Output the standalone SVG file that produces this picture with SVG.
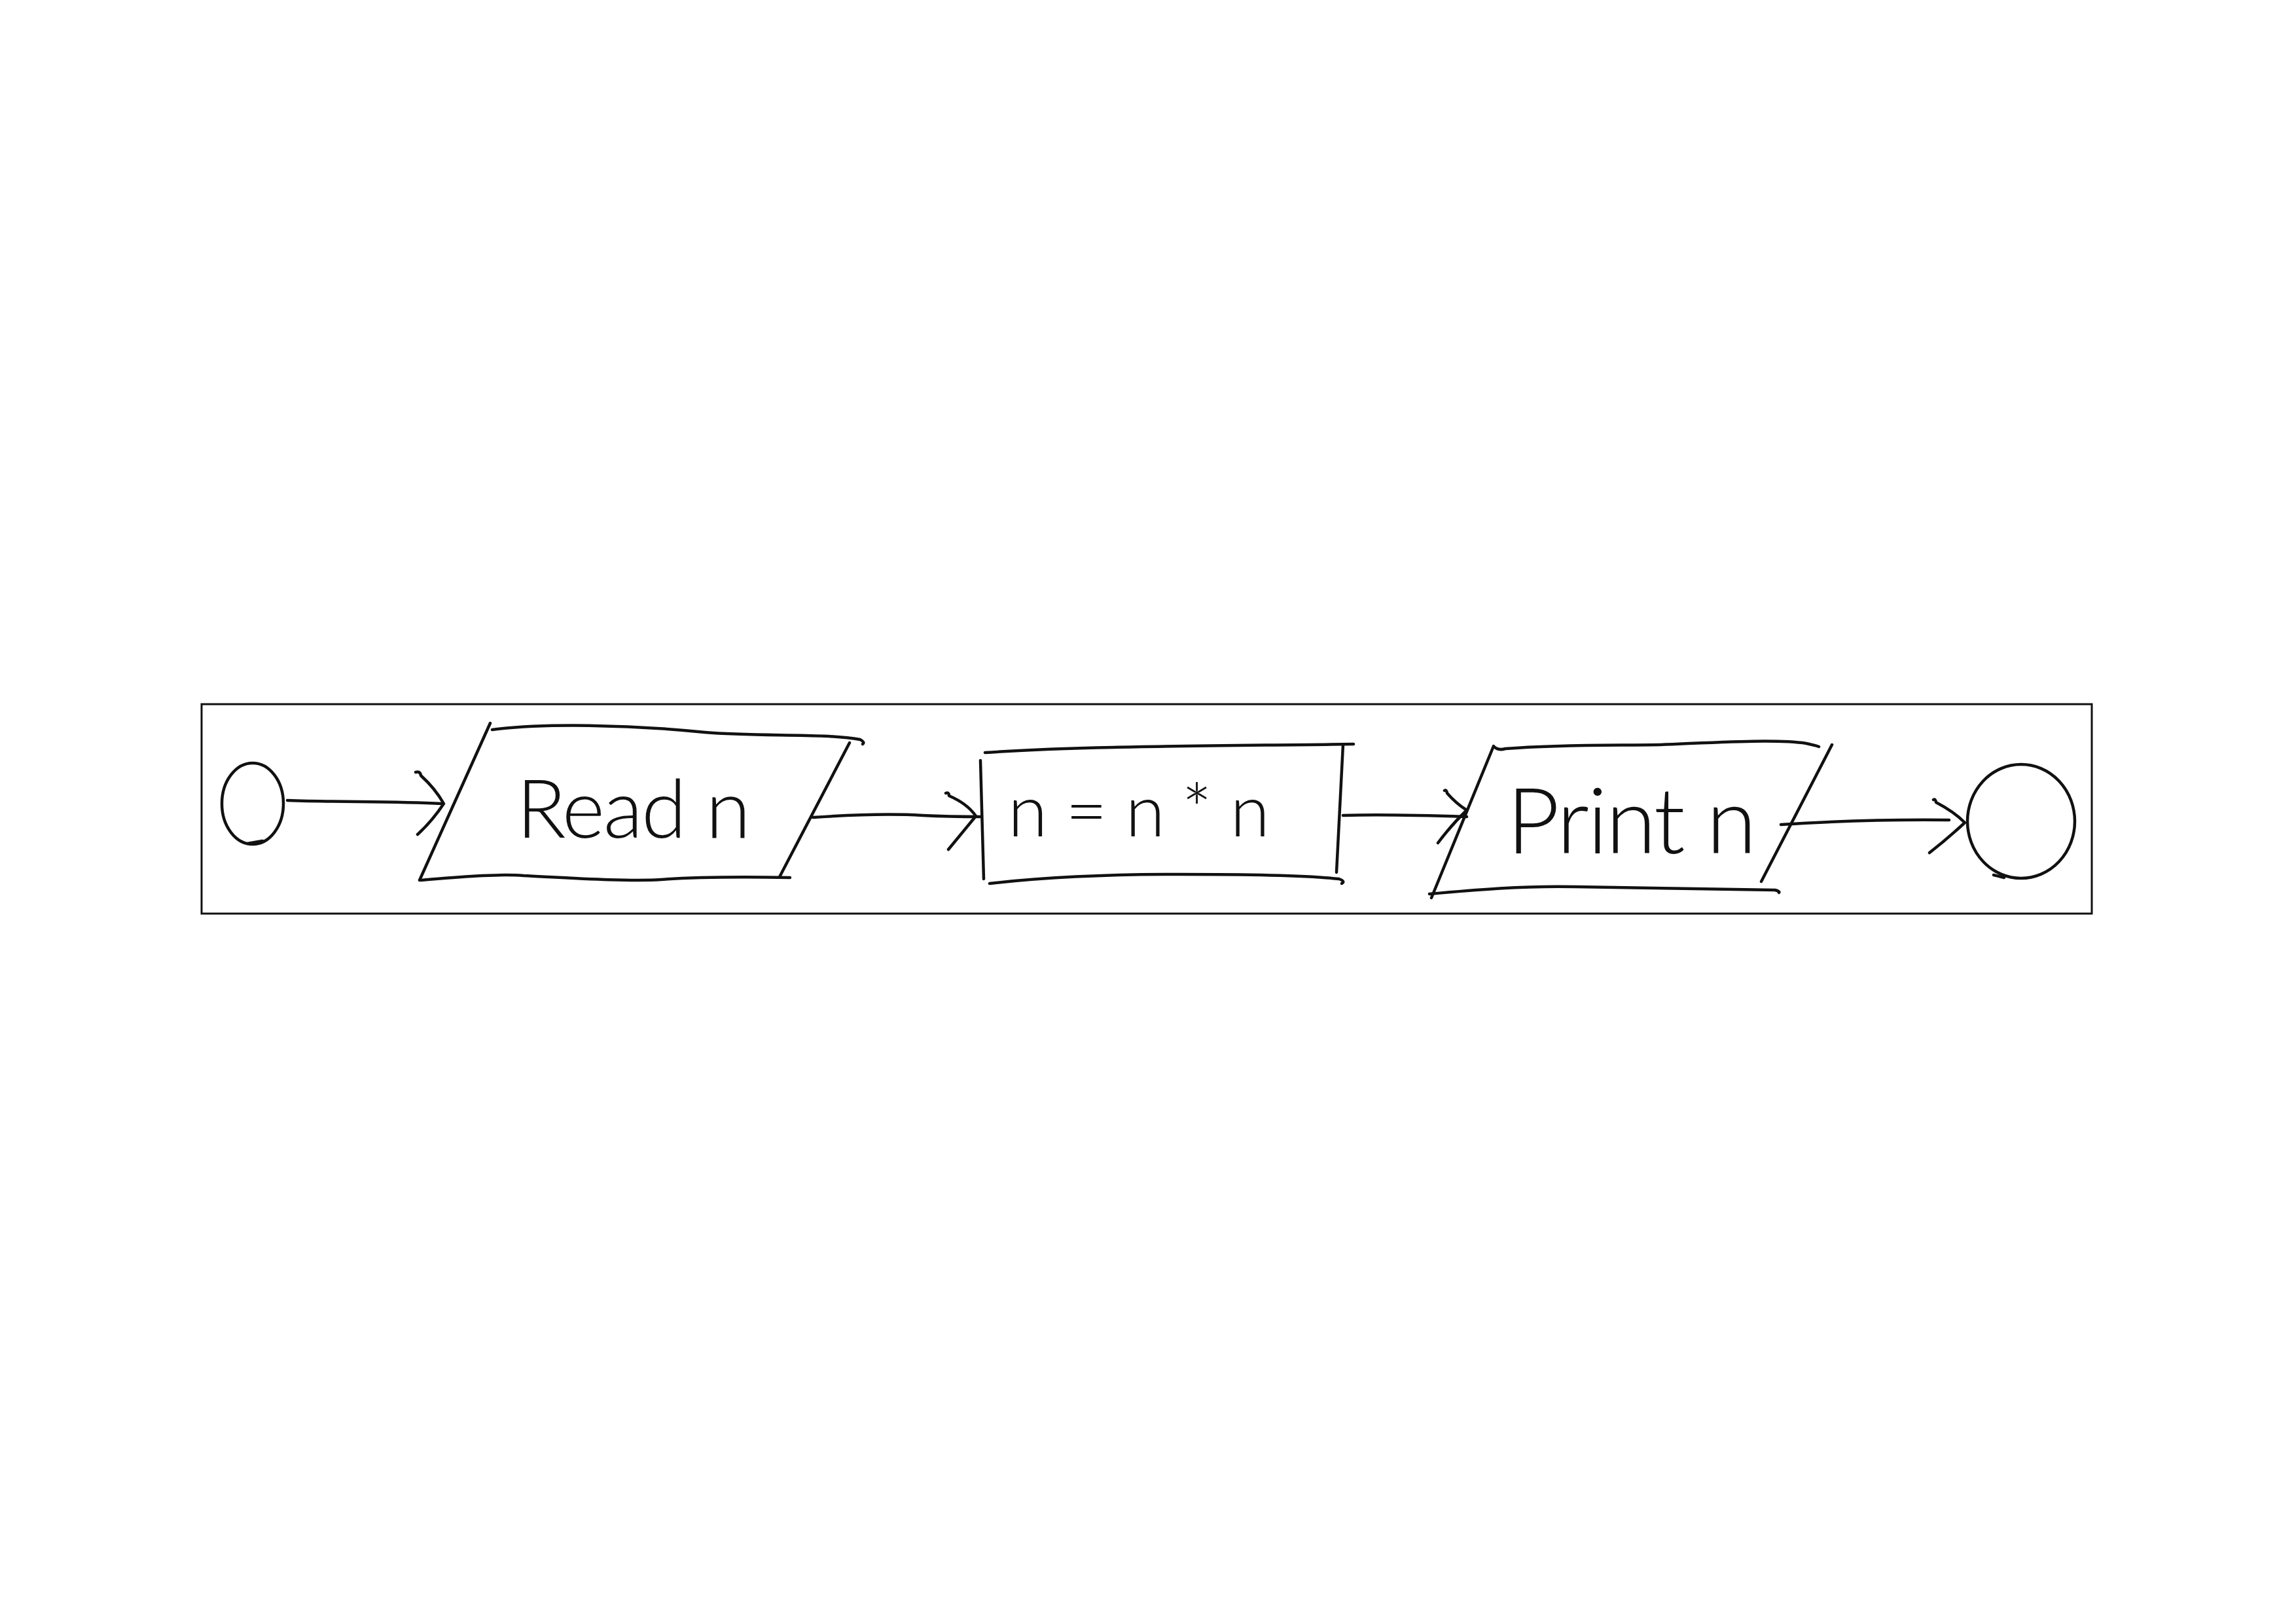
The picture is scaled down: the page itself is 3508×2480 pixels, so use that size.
<svg xmlns="http://www.w3.org/2000/svg" width="3508" height="2480" viewBox="0 0 3508 2480">
  <style>
    .ink { fill: none; stroke: #111; stroke-width: 4.5; stroke-linecap: round; stroke-linejoin: round; }
    .frame { fill: none; stroke: #111; stroke-width: 3; }
    .label { font-family: "Lato", "Open Sans", "Liberation Sans", sans-serif; fill: #111; font-weight: 300; }
  </style>
  <rect width="3508" height="2480" fill="#ffffff"/>

  <!-- Outer frame -->
  <rect class="frame" x="308" y="1076" width="2888" height="320"/>

  <!-- Start terminal -->
  <g id="start">
    <ellipse class="ink" cx="386" cy="1228" rx="47" ry="62"/>
    <path class="ink" d="M378 1289 L401 1285"/>
  </g>

  <!-- Input: Read n -->
  <g id="read">
    <path class="ink" d="M749 1105 L641 1345"/>
    <path class="ink" d="M752 1115 C 830 1105, 960 1107, 1077 1119 C 1160 1126, 1260 1120, 1314 1130 Q 1322 1134 1318 1137"/>
    <path class="ink" d="M1298 1135 L1191 1340"/>
    <path class="ink" d="M643 1345 C 700 1340, 760 1335, 800 1338 C 880 1342, 960 1347, 1010 1344 C 1080 1339, 1150 1340, 1207 1341"/>
    <text class="label" x="968" y="1280" font-size="125" text-anchor="middle" textLength="358" lengthAdjust="spacing">Read n</text>
  </g>

  <!-- Process: n=n*n -->
  <g id="square">
    <path class="ink" d="M1498 1162 L1503 1343"/>
    <path class="ink" d="M1505 1150 C 1650 1140, 1850 1140, 2068 1137"/>
    <path class="ink" d="M2052 1138 L2042 1333"/>
    <path class="ink" d="M1512 1350 C 1600 1340, 1700 1336, 1800 1336 C 1900 1336, 2000 1338, 2046 1343 Q 2056 1347 2050 1350"/>
    <text class="label" x="1740" y="1278" font-size="110" text-anchor="middle" textLength="400" lengthAdjust="spacing">n=n*n</text>
  </g>

  <!-- Output: Print n -->
  <g id="print">
    <path class="ink" d="M2282 1140 L2187 1372"/>
    <path class="ink" d="M2284 1142 Q 2290 1147 2300 1144 C 2400 1136, 2500 1140, 2560 1137 C 2650 1133, 2720 1130, 2760 1136 Q 2778 1140 2779 1141"/>
    <path class="ink" d="M2799 1138 L2691 1347"/>
    <path class="ink" d="M2184 1366 C 2250 1360, 2330 1353, 2407 1355 C 2500 1357, 2620 1358, 2712 1360 Q 2720 1362 2718 1364"/>
    <text class="label" x="2493" y="1304" font-size="140" text-anchor="middle" textLength="382" lengthAdjust="spacing">Print n</text>
  </g>

  <!-- End terminal -->
  <g id="end">
    <ellipse class="ink" cx="3088" cy="1255" rx="82" ry="87"/>
    <path class="ink" d="M3046 1337 L3062 1341"/>
  </g>

  <!-- Connectors with open chevron heads -->
  <g id="connectors">
    <path class="ink" d="M439 1223 C 520 1226, 600 1224, 675 1228"/>
    <path class="ink" d="M635 1180 Q 642 1178 643 1185 Q 665 1205 678 1228 Q 660 1255 638 1275"/>

    <path class="ink" d="M1242 1249 C 1300 1245, 1360 1243, 1410 1246 C 1450 1248, 1480 1248, 1498 1248"/>
    <path class="ink" d="M1445 1212 Q 1450 1210 1450 1216 Q 1478 1228 1491 1247 Q 1472 1270 1449 1298"/>

    <path class="ink" d="M2052 1246 C 2120 1244, 2180 1246, 2241 1248"/>
    <path class="ink" d="M2207 1208 Q 2210 1206 2211 1212 Q 2225 1228 2241 1238 Q 2218 1260 2197 1288"/>

    <path class="ink" d="M2721 1260 C 2800 1255, 2900 1252, 2978 1253"/>
    <path class="ink" d="M2954 1222 Q 2957 1220 2958 1226 Q 2985 1240 3002 1257 Q 2975 1282 2948 1303"/>
  </g>
</svg>
